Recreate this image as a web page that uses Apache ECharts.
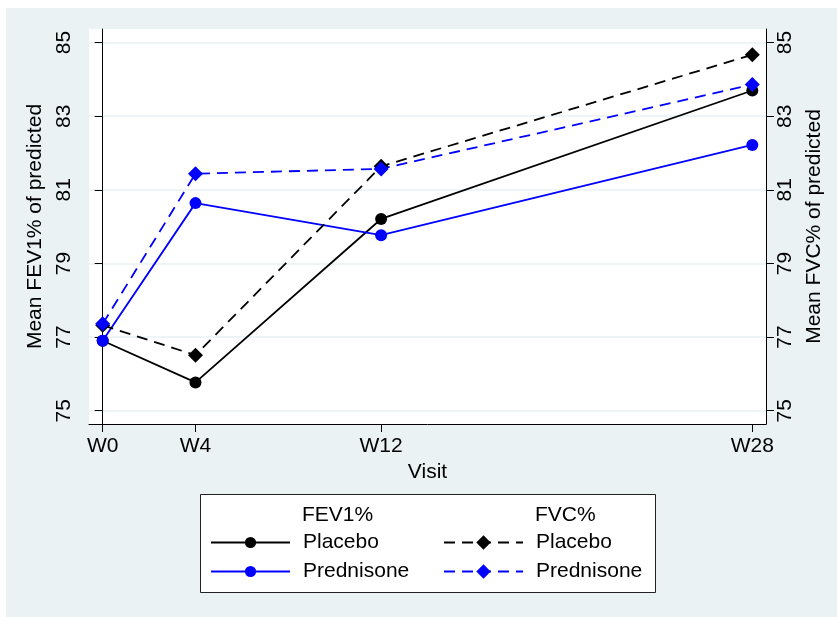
<!DOCTYPE html>
<html>
<head>
<meta charset="utf-8">
<script src="https://cdn.jsdelivr.net/npm/echarts@6/dist/echarts.min.js"></script>
<style>
html,body{margin:0;padding:0;background:#ffffff;}
#chart{position:absolute;left:6px;top:8px;width:831px;height:609px;}
</style>
</head>
<body>
<div id="chart"></div>
<script>
// ---- data ----
var weeks = [0, 4, 12, 28];
var xTickLabels = ['W0', 'W4', 'W12', 'W28'];
var yTicks = [75, 77, 79, 81, 83, 85];
var fev1Placebo = [76.90, 75.77, 80.21, 83.70];
var fev1Prednisone = [76.90, 80.64, 79.77, 82.22];
var fvcPlacebo = [77.32, 76.51, 81.64, 84.67];
var fvcPrednisone = [77.36, 81.44, 81.57, 83.86];

function pairs(xs, ys) {
  return xs.map(function (x, i) { return [x, ys[i]]; });
}

var FONT = '"Liberation Sans", Arial, Helvetica, sans-serif';
var BLUE = '#0000ff';
var BLACK = '#000000';
var GRIDC = '#eaf2f3';

var chart = echarts.init(document.getElementById('chart'));

function yAxisCfg(pos, name, labelMargin, nameGap) {
  return {
    type: 'value',
    position: pos,
    min: 74.64,
    max: 85.37,
    name: name,
    nameLocation: 'middle',
    nameRotate: 90,
    nameGap: nameGap,
    nameTextStyle: { fontFamily: FONT, fontSize: 21, color: BLACK },
    axisLine: { show: true, lineStyle: { color: BLACK, width: 1 } },
    axisTick: { show: true, length: 8, customValues: yTicks, lineStyle: { color: BLACK, width: 1 } },
    axisLabel: { show: true, rotate: 90, margin: labelMargin, customValues: yTicks,
      fontFamily: FONT, fontSize: 21, color: BLACK },
    splitLine: { show: pos === 'left', lineStyle: { color: GRIDC, width: 1.5 } }
  };
}

var option = {
  backgroundColor: '#eaf2f3',
  animation: false,
  grid: { left: 83, top: 21, right: 71, bottom: 193, show: true,
    backgroundColor: '#ffffff', borderWidth: 0, containLabel: false },
  xAxis: {
    type: 'value',
    min: -0.59,
    max: 28.59,
    name: 'Visit',
    nameLocation: 'middle',
    nameGap: 33,
    nameTextStyle: { fontFamily: FONT, fontSize: 21, color: BLACK },
    axisLine: { show: true, onZero: false, lineStyle: { color: BLACK, width: 1 } },
    axisTick: { show: true, length: 8, customValues: weeks, lineStyle: { color: BLACK, width: 1 } },
    axisLabel: { show: true, margin: 12, customValues: weeks,
      formatter: function (v) { var i = weeks.indexOf(v); return i >= 0 ? xTickLabels[i] : ''; },
      fontFamily: FONT, fontSize: 21, color: BLACK },
    splitLine: { show: false }
  },
  yAxis: [
    yAxisCfg('left', 'Mean FEV1% of predicted', 14, 38),
    yAxisCfg('right', 'Mean FVC% of predicted', 9, 33)
  ],
  legend: [
    {
      left: 204, top: 524, orient: 'vertical', padding: 0,
      itemWidth: 79, itemHeight: 14, itemGap: 8,
      data: ['FEV1% Placebo', 'FEV1% Prednisone'],
      formatter: function (n) { return n.replace('FEV1% ', ''); },
      textStyle: { fontFamily: FONT, fontSize: 21, color: BLACK, padding: [0, 0, 0, 8] },
      selectedMode: false
    },
    {
      left: 437, top: 524, orient: 'vertical', padding: 0,
      itemWidth: 79, itemHeight: 18, itemGap: 8,
      data: ['FVC% Placebo', 'FVC% Prednisone'],
      formatter: function (n) { return n.replace('FVC% ', ''); },
      textStyle: { fontFamily: FONT, fontSize: 21, color: BLACK, padding: [0, 0, 0, 8] },
      selectedMode: false
    }
  ],
  graphic: [
    { type: 'rect', left: 194, top: 486, z: -1,
      shape: { width: 455, height: 98 },
      style: { fill: '#ffffff', stroke: '#222222', lineWidth: 1 } },
    { type: 'text', left: 296, top: 497,
      style: { text: 'FEV1%', font: '21px ' + FONT, fill: BLACK } },
    { type: 'text', left: 529, top: 497,
      style: { text: 'FVC%', font: '21px ' + FONT, fill: BLACK } }
  ],
  series: [
    { name: 'FEV1% Placebo', type: 'line', yAxisIndex: 0, data: pairs(weeks, fev1Placebo),
      symbol: 'circle', symbolSize: 12, color: BLACK,
      lineStyle: { color: BLACK, width: 1.8, type: 'solid' }, itemStyle: { color: BLACK } },
    { name: 'FEV1% Prednisone', type: 'line', yAxisIndex: 0, data: pairs(weeks, fev1Prednisone),
      symbol: 'circle', symbolSize: 12, color: BLUE,
      lineStyle: { color: BLUE, width: 1.8, type: 'solid' }, itemStyle: { color: BLUE } },
    { name: 'FVC% Placebo', type: 'line', yAxisIndex: 1, data: pairs(weeks, fvcPlacebo),
      symbol: 'diamond', symbolSize: 15, color: BLACK,
      lineStyle: { color: BLACK, width: 1.8, type: [11, 7] }, itemStyle: { color: BLACK } },
    { name: 'FVC% Prednisone', type: 'line', yAxisIndex: 1, data: pairs(weeks, fvcPrednisone),
      symbol: 'diamond', symbolSize: 15, color: BLUE,
      lineStyle: { color: BLUE, width: 1.8, type: [11, 7] }, itemStyle: { color: BLUE } }
  ]
};
chart.setOption(option);
</script>
</body>
</html>
